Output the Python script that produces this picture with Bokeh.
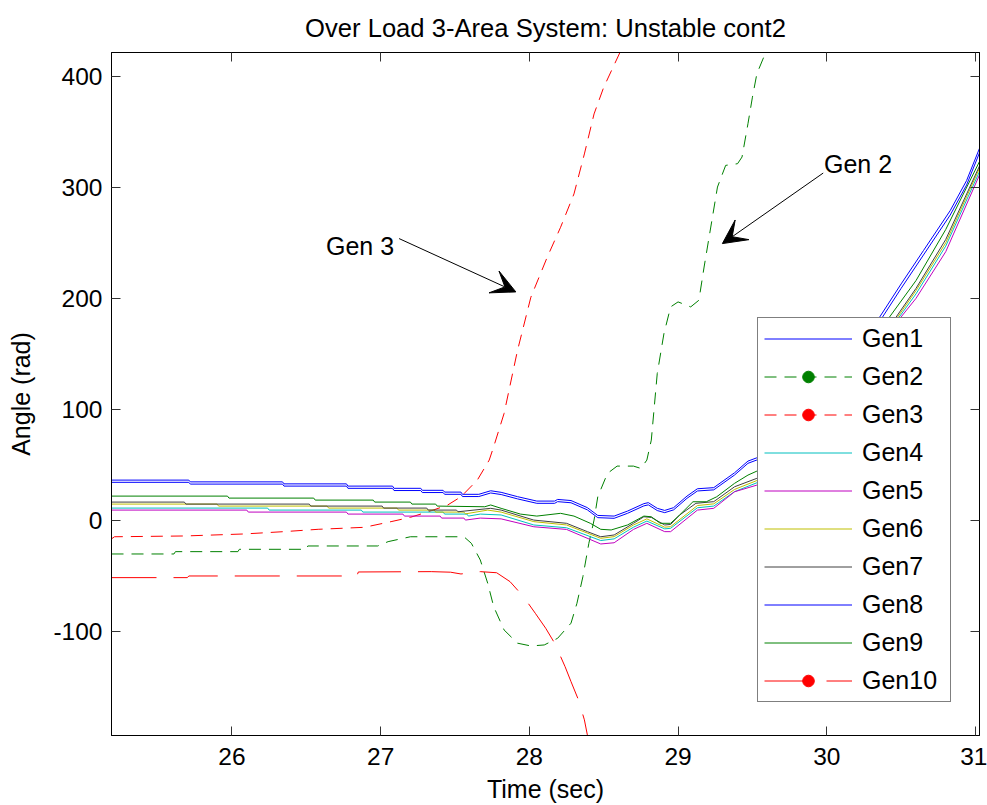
from bokeh.plotting import figure
from bokeh.models import (Range1d, LinearAxis, FixedTicker, Legend, LegendItem,
                          Arrow, VeeHead, Label)
from bokeh.embed import file_html
from bokeh.resources import INLINE

FONT = "Liberation Sans"

# ---------------- data ----------------
title_text = "Over Load 3-Area System: Unstable cont2"
x_label = "Time (sec)"
y_label = "Angle (rad)"
x_ticks = [26, 27, 28, 29, 30, 31]
y_ticks = [-100, 0, 100, 200, 300, 400]
y_tick_labels = ["-100", "0", "100", "200", "300", "400"]
x_lim = [25.19, 31.027]
y_lim = [-193.5, 421.3]

gen1_t = [25.19, 25.71, 25.72, 26.34, 26.35, 26.77, 26.78, 27.08, 27.09, 27.27,
          27.28, 27.42, 27.43, 27.54, 27.55, 27.66, 27.74, 27.81, 27.92, 28.05,
          28.17, 28.19, 28.28, 28.39, 28.46, 28.57, 28.66, 28.77, 28.80, 28.86,
          28.91, 28.97, 29.06, 29.13, 29.24, 29.38, 29.47, 29.53, 29.80, 30.10,
          30.35, 30.50, 30.65, 30.83, 30.94, 31.03]
gen1_v = [36.4, 36.4, 34.8, 34.8, 33.0, 33.0, 31.0, 31.0, 29.0, 29.0,
          27.2, 27.2, 25.6, 25.6, 23.6, 23.6, 26.8, 25.4, 21.5, 17.5,
          17.5, 19.0, 18.0, 11.6, 4.6, 4.0, 8.5, 15.2, 16.1, 11.0,
          9.1, 11.6, 22.0, 28.6, 29.6, 43.0, 53.5, 56.5, 88.0, 138.0,
          182.0, 213.0, 243.0, 279.0, 306.0, 336.0]
gen8_v = [34.4, 34.4, 32.8, 32.8, 31.0, 31.0, 29.0, 29.0, 27.0, 27.0,
          25.2, 25.2, 23.6, 23.6, 21.6, 21.6, 24.8, 23.4, 19.5, 15.5,
          15.5, 17.0, 16.0, 9.6, 2.6, 2.0, 6.5, 13.2, 14.1, 9.0,
          7.1, 9.6, 20.0, 26.6, 27.6, 41.0, 51.5, 54.5, 85.0, 134.0,
          178.0, 209.0, 239.0, 275.0, 302.0, 332.0]

gen2_t = [25.19, 25.61, 25.62, 26.04, 26.05, 26.50, 26.51, 26.98, 27.05, 27.20,
          27.56, 27.61, 27.67, 27.72, 27.76, 27.83, 27.92, 28.01, 28.10, 28.19,
          28.28, 28.32, 28.36, 28.40, 28.435, 28.46, 28.525, 28.59, 28.70, 28.75,
          28.79, 28.82, 28.86, 28.905, 28.95, 29.00, 29.085, 29.14, 29.175, 29.22,
          29.265, 29.32, 29.40, 29.43, 29.47, 29.50, 29.53, 29.59, 29.70]
gen2_v = [-30.1, -30.1, -28.0, -28.0, -25.9, -25.9, -22.9, -22.9, -19.0, -14.6,
          -14.6, -20.5, -35.5, -56.5, -77.5, -98.5, -110.4, -112.9, -112.0, -106.0,
          -92.4, -74.5, -50.5, -20.5, 0.4, 21.4, 42.4, 49.0, 49.0, 46.9,
          54.4, 72.4, 132.4, 168.3, 192.3, 196.8, 192.3, 198.3, 228.2, 264.2,
          300.2, 319.7, 321.2, 327.2, 357.2, 381.1, 402.2, 421.6, 470.0]

gen3_t = [25.19, 25.21, 25.68, 26.08, 26.35, 26.58, 26.89, 27.07, 27.20, 27.34,
          27.45, 27.54, 27.65, 27.73, 27.76, 27.83, 27.92, 28.01, 28.12, 28.21,
          28.30, 28.37, 28.435, 28.50, 28.61, 28.75]
gen3_v = [-16.5, -14.6, -13.9, -12.1, -10.0, -7.9, -6.1, -1.0, 2.9, 8.8,
          13.9, 21.4, 36.4, 54.4, 66.4, 96.4, 153.0, 201.0, 237.0, 264.0,
          294.0, 330.0, 366.0, 390.0, 421.6, 470.0]

gen4_t = [25.19, 26.24, 26.25, 26.87, 26.88, 27.42, 27.43, 27.58, 27.59, 27.67,
          27.81, 28.03, 28.25, 28.48, 28.57, 28.70, 28.79, 28.91, 28.95, 29.13,
          29.24, 29.38, 29.53, 29.80, 30.10, 30.47, 30.60, 30.80, 31.03]
gen4_v = [11.2, 11.2, 9.4, 9.4, 7.6, 7.6, 5.8, 5.8, 4.0, 5.8,
          5.0, -4.0, -6.5, -18.0, -16.5, -6.0, -0.5, -7.5, -7.0, 11.5,
          13.0, 26.0, 34.0, 61.0, 112.0, 180.0, 204.0, 247.0, 315.0]

gen5_t = [25.19, 26.10, 26.11, 26.77, 26.78, 27.15, 27.16, 27.40, 27.41, 27.56,
          27.57, 27.67, 27.81, 28.03, 28.25, 28.48, 28.57, 28.70, 28.79, 28.91,
          28.95, 29.13, 29.24, 29.38, 29.53, 29.80, 30.10, 30.48, 30.60, 30.80,
          31.03]
gen5_v = [9.4, 9.4, 7.6, 7.6, 5.8, 5.8, 4.0, 4.0, 2.2, 2.2,
          0.4, 2.2, 1.5, -5.6, -8.0, -21.1, -20.0, -8.0, -2.5, -10.0,
          -10.0, 9.4, 11.0, 25.9, 31.9, 58.0, 109.0, 180.0, 200.0, 242.0,
          312.0]

gen6_t = [25.19, 25.90, 25.91, 26.64, 26.65, 27.11, 27.12, 27.36, 27.37, 27.56,
          27.57, 27.72, 27.81, 28.03, 28.25, 28.48, 28.57, 28.70, 28.79, 28.91,
          28.95, 29.13, 29.24, 29.38, 29.53, 29.80, 30.10, 30.46, 30.60, 30.80,
          31.03]
gen6_v = [14.8, 14.8, 13.0, 13.0, 11.2, 11.2, 9.4, 9.4, 7.6, 7.6,
          6.0, 9.4, 7.6, -1.0, -4.0, -16.0, -14.5, -4.0, 1.5, -6.0,
          -5.5, 13.5, 15.0, 28.0, 36.0, 63.0, 114.0, 180.0, 207.0, 250.0,
          318.0]

gen7_t = [25.19, 25.68, 25.69, 26.52, 26.53, 27.01, 27.02, 27.31, 27.32, 27.51,
          27.52, 27.74, 27.81, 28.03, 28.25, 28.39, 28.48, 28.57, 28.70, 28.77,
          28.82, 28.91, 28.95, 29.01, 29.12, 29.24, 29.38, 29.53, 29.80, 30.10,
          30.45, 30.60, 30.80, 31.03]
gen7_v = [16.6, 16.6, 14.8, 14.8, 13.0, 13.0, 11.2, 11.2, 9.4, 9.4,
          7.9, 11.0, 9.4, 0.4, -2.5, -10.0, -14.6, -13.0, -2.5, 3.4,
          2.8, -4.0, -3.5, 4.9, 15.5, 17.0, 30.4, 38.0, 66.0, 118.0,
          180.0, 209.0, 253.0, 320.0]

gen9_t = [25.19, 25.97, 25.98, 26.55, 26.56, 26.95, 26.96, 27.20, 27.21, 27.37,
          27.38, 27.70, 27.74, 27.81, 27.94, 28.05, 28.21, 28.30, 28.41, 28.48,
          28.55, 28.66, 28.77, 28.82, 28.88, 28.95, 29.01, 29.10, 29.19, 29.26,
          29.38, 29.47, 29.53, 29.80, 30.10, 30.41, 30.60, 30.80, 31.03]
gen9_v = [22.0, 22.0, 20.2, 20.2, 18.4, 18.4, 16.6, 16.6, 14.8, 14.8,
          13.0, 12.4, 14.0, 11.0, 5.8, 4.0, 6.5, 4.0, -2.5, -7.9,
          -8.5, -4.0, 4.0, 3.4, -2.5, -2.5, 4.9, 16.9, 16.9, 21.4,
          33.5, 40.9, 44.5, 74.0, 126.0, 181.0, 216.0, 262.0, 324.0]

gen10_t = [25.19, 25.70, 25.71, 26.84, 26.85, 27.34, 27.47, 27.54, 27.67, 27.78,
           27.87, 27.96, 28.04, 28.11, 28.17, 28.24, 28.28, 28.33, 28.37, 28.39,
           28.45]
gen10_v = [-51.4, -51.4, -49.9, -49.9, -46.3, -46.0, -46.5, -48.1, -46.0, -47.0,
           -55.0, -68.5, -83.5, -97.0, -110.4, -131.5, -145.0, -161.4, -179.4, -193.0,
           -230.0]

names = ["Gen1", "Gen2", "Gen3", "Gen4", "Gen5", "Gen6", "Gen7", "Gen8", "Gen9", "Gen10"]

# ---------------- figure ----------------
p = figure(width=987, height=805, output_backend="svg", toolbar_location=None,
           x_range=Range1d(*x_lim), y_range=Range1d(*y_lim),
           min_border_left=111, min_border_right=8, min_border_top=52,
           min_border_bottom=69, title=title_text)
p.title.text_font = FONT
p.title.text_font_size = "25.6px"
p.title.text_font_style = "normal"
p.title.align = "center"
p.title.vertical_align = "middle"
p.title.offset = -15
p.title.text_color = "black"
p.title.standoff = 19
p.xgrid.visible = False
p.ygrid.visible = False
p.outline_line_color = "black"
p.outline_line_width = 1
p.background_fill_color = "white"
p.border_fill_color = "white"

for ax, ticks in ((p.xaxis[0], x_ticks), (p.yaxis[0], y_ticks)):
    ax.ticker = FixedTicker(ticks=ticks)
    ax.major_tick_in = 9
    ax.major_tick_out = 0
    ax.minor_tick_in = 0
    ax.minor_tick_out = 0
    ax.major_tick_line_color = "#333333"
    ax.axis_line_color = "black"
    ax.major_label_text_font = FONT
    ax.major_label_text_font_size = "24.5px"
    ax.major_label_text_color = "black"
    ax.axis_label_text_font = FONT
    ax.axis_label_text_font_size = "25px"
    ax.axis_label_text_font_style = "normal"
    ax.axis_label_text_color = "black"
p.yaxis[0].major_label_overrides = {t: s for t, s in zip(y_ticks, y_tick_labels)}
p.xaxis[0].axis_label = x_label
p.yaxis[0].axis_label = y_label
p.xaxis[0].major_label_standoff = 12
p.xaxis[0].axis_label_standoff = 7
p.yaxis[0].major_label_standoff = 9
p.yaxis[0].axis_label_standoff = 15

for loc, ticks in (("above", x_ticks), ("right", y_ticks)):
    a = LinearAxis(ticker=FixedTicker(ticks=ticks), major_tick_in=9, major_tick_out=0,
                   minor_tick_in=0, minor_tick_out=0, major_label_standoff=0,
                   major_label_text_font_size="1px", major_label_text_alpha=0,
                   major_tick_line_color="#333333", axis_line_color="black")
    p.add_layout(a, loc)

series = [
    (gen1_t, gen1_v, "#0000FF", None),
    (gen2_t, gen2_v, "#008000", "12 8"),
    (gen3_t, gen3_v, "#FF0000", "12 8"),
    (gen4_t, gen4_v, "#00BFBF", None),
    (gen5_t, gen5_v, "#BF00BF", None),
    (gen6_t, gen6_v, "#BFBF00", None),
    (gen7_t, gen7_v, "#404040", None),
    (gen1_t, gen8_v, "#0000FF", None),
    (gen9_t, gen9_v, "#008000", None),
    (gen10_t, gen10_v, "#FF0000", "45 17"),
]
dotted = {"Gen2", "Gen3", "Gen10"}

items = []
for name, (t, v, col, dash) in zip(names, series):
    kw = {}
    if dash:
        kw["line_dash"] = dash
    r = p.line(t, v, line_color=col, line_width=1, **kw)
    rs = [r]
    if name in dotted:
        # legend marker; the point itself lies outside the visible range
        m = p.scatter(t[-1:], v[-1:], marker="circle", size=6,
                      fill_color=col, line_color=col)
        rs.append(m)
    items.append(LegendItem(label=name, renderers=rs))

legend = Legend(items=items, location=(646, 33), padding=6, spacing=9,
                glyph_width=88, glyph_height=29, label_height=29,
                label_standoff=10, label_width=82, label_text_font=FONT,
                label_text_font_size="25px", label_text_color="black",
                border_line_color="black", border_line_width=1,
                background_fill_color="white", background_fill_alpha=1.0,
                margin=0)
p.add_layout(legend)

# ---------------- annotations ----------------
ann_font = "25px"
p.add_layout(Label(x=26.632, y=247.1, text="Gen 3", text_font=FONT,
                   text_font_size=ann_font, text_baseline="alphabetic",
                   text_align="left", text_color="black"))
p.add_layout(Label(x=29.981, y=320.6, text="Gen 2", text_font=FONT,
                   text_font_size=ann_font, text_baseline="alphabetic",
                   text_align="left", text_color="black"))
p.add_layout(Arrow(x_start=27.124, y_start=253.8, x_end=27.909, y_end=205.8,
                   line_color="black", line_width=1,
                   end=VeeHead(size=24, fill_color="black", line_color="black")))
p.add_layout(Arrow(x_start=29.976, y_start=312.8, x_end=29.298, y_end=249.3,
                   line_color="black", line_width=1,
                   end=VeeHead(size=24, fill_color="black", line_color="black")))

open("out.html", "w").write(file_html(p, INLINE))
